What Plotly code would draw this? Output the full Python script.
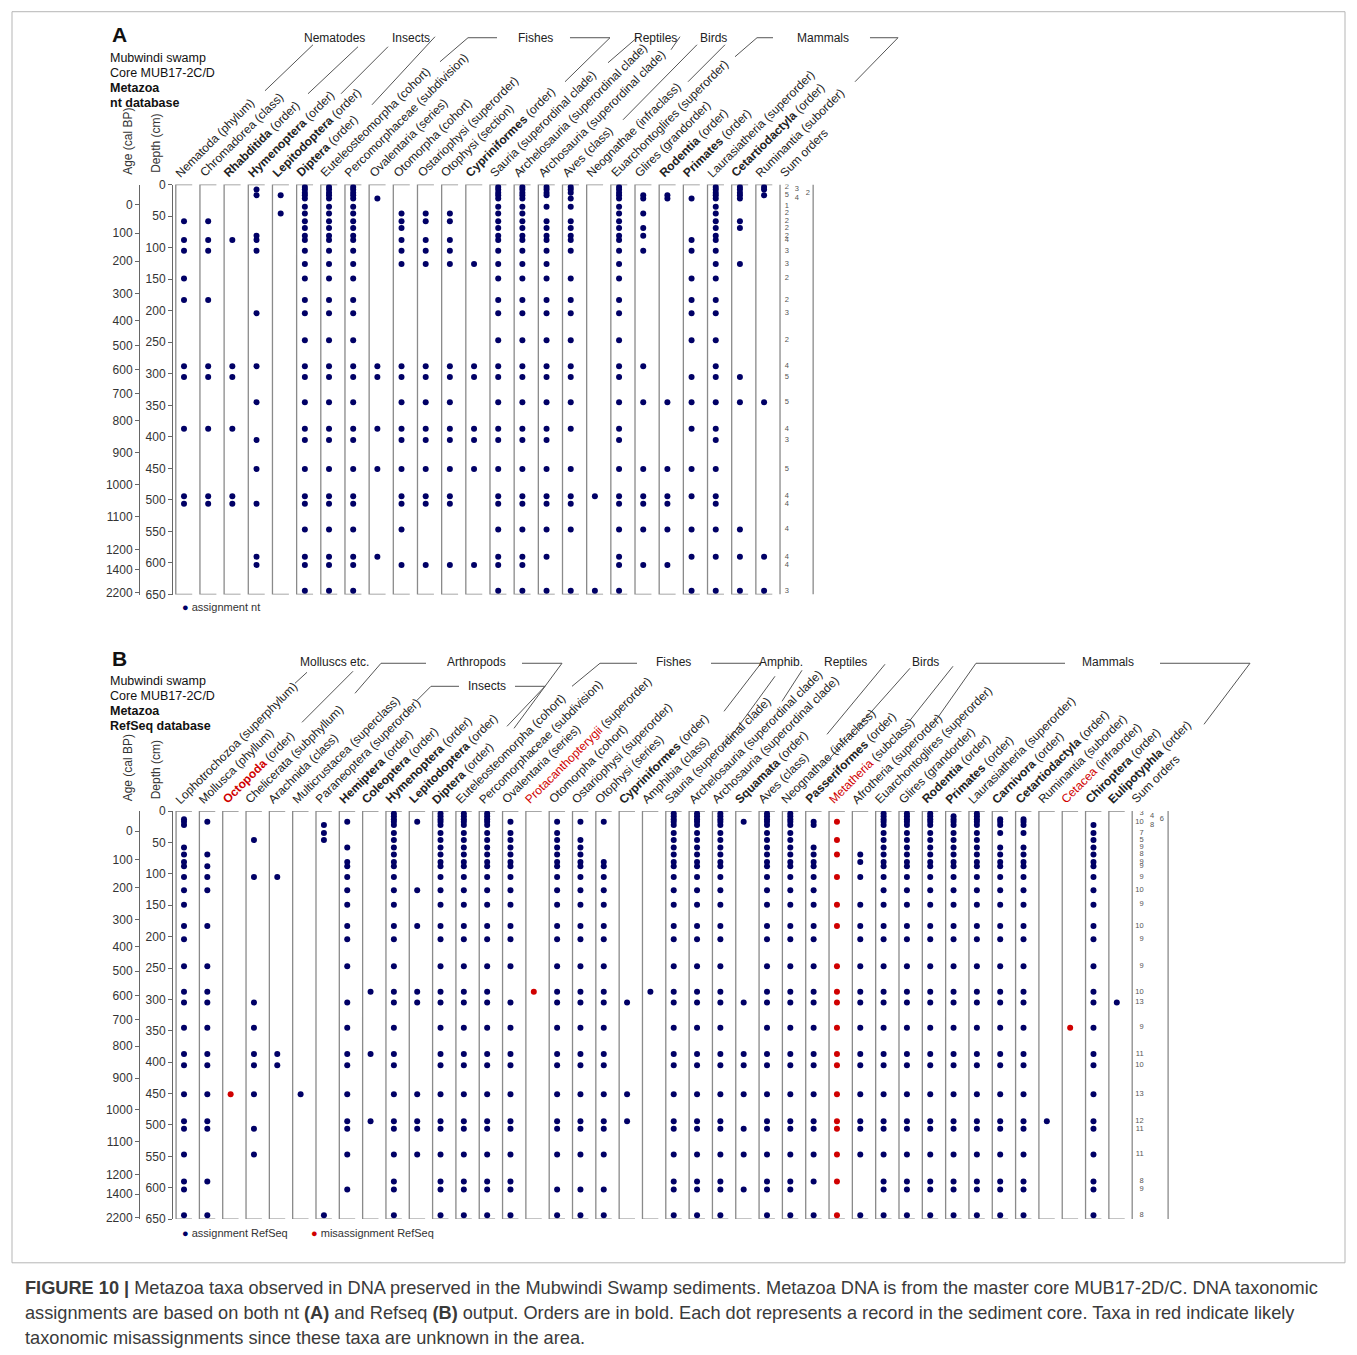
import plotly.graph_objects as go

W, H = 1357, 1355
# the photographed page shows figure rows at 7.3 + 0.9888 * y; positions below are page pixels
Y_OFF, Y_SCALE = 7.3, 0.9888
FONT = "Liberation Sans, Arial, Helvetica, sans-serif"
NAVY = "#000066"
RED = "#d00000"
FRAME = "#8a8a8a"
INK = "#333333"

# ---------------------------------------------------------------- data
SAMPLE_DEPTHS = [4, 8, 13, 17, 22, 35, 46, 58, 69, 81, 88, 105, 126, 149, 183,
                 204, 247, 288, 305, 345, 387, 405, 451, 494, 506, 547, 590, 603, 644]
DEPTH_TICKS = [0, 50, 100, 150, 200, 250, 300, 350, 400, 450, 500, 550, 600, 650]
AGE_LABELS = [0, 100, 200, 300, 400, 500, 600, 700, 800, 900, 1000, 1100, 1200, 1400, 2200]
AGE_TICK_DEPTHS = [32, 77, 121.5, 173.5, 216, 255, 294, 332, 374.5, 425.5, 476, 527, 579, 610.5, 647.5]
ALL = SAMPLE_DEPTHS

# Panel A: nt database
A_NAMES = ["Nematoda", "Chromadorea", "Rhabditida", "Hymenoptera", "Lepitodoptera", "Diptera",
           "Euteleosteomorpha", "Percomorphaceae", "Ovalentaria", "Otomorpha", "Ostariophysi",
           "Otophysi", "Cypriniformes", "Sauria", "Archelosauria", "Archosauria", "Aves",
           "Neognathae", "Euarchontoglires", "Glires", "Rodentia", "Primates", "Laurasiatheria",
           "Cetartiodactyla", "Ruminantia"]
A_RANKS = ["phylum", "class", "order", "order", "order", "order", "cohort", "subdivision",
           "series", "cohort", "superorder", "section", "order", "superordinal clade",
           "superordinal clade", "superordinal clade", "class", "infraclass", "superorder",
           "grandorder", "order", "order", "superorder", "order", "suborder"]
A_RED = [False] * 25
A_DEPTHS = [
    [58, 88, 105, 149, 183, 288, 305, 387, 494, 506],
    [58, 88, 105, 183, 288, 305, 387, 494, 506],
    [88, 288, 305, 387, 494, 506],
    [8, 17, 81, 88, 105, 204, 288, 345, 405, 451, 506, 590, 603],
    [17, 46],
    ALL,
    ALL,
    ALL,
    [22, 288, 305, 387, 451, 590],
    [46, 58, 69, 88, 105, 126, 288, 305, 345, 387, 405, 451, 494, 506, 547, 603],
    [46, 58, 88, 105, 126, 288, 305, 345, 387, 405, 451, 494, 506, 603],
    [46, 58, 88, 105, 126, 288, 305, 345, 387, 405, 451, 494, 506, 603],
    [126, 288, 305, 387, 405, 451, 603],
    ALL,
    ALL,
    [4, 8, 13, 17, 35, 58, 69, 81, 88, 105, 126, 149, 183, 204, 247, 288, 305, 345, 387,
     405, 451, 494, 506, 547, 590, 644],
    [4, 8, 13, 22, 35, 58, 69, 81, 88, 105, 149, 183, 204, 247, 288, 305, 345, 387, 451,
     494, 506, 547, 644],
    [494, 644],
    ALL,
    [17, 22, 46, 69, 81, 105, 288, 345, 451, 494, 506, 547, 603],
    [17, 22, 345, 451, 494, 506, 547, 603],
    [22, 88, 105, 149, 183, 204, 247, 305, 345, 387, 451, 494, 547, 590, 644],
    [4, 8, 13, 17, 22, 35, 46, 58, 69, 81, 88, 105, 126, 149, 183, 204, 247, 288, 305, 345,
     387, 405, 451, 494, 506, 547, 590, 644],
    [4, 8, 13, 17, 22, 58, 69, 126, 305, 345, 547, 590, 644],
    [4, 8, 17, 345, 590, 644],
]
A_SUMS = [2, 3, 2, 5, 4, 1, 2, 2, 2, 2, 4, 3, 3, 2, 2, 3, 2, 4, 5, 5, 4, 3, 5, 4, 4, 4, 4, 4, 3]

# Panel B: RefSeq database
B_NAMES = ["Lophotrochozoa", "Mollusca", "Octopoda", "Chelicerata", "Arachnida", "Multicrustacea",
           "Paraneoptera", "Hemiptera", "Coleoptera", "Hymenoptera", "Lepitodoptera", "Diptera",
           "Euteleosteomorpha", "Percomorphaceae", "Ovalentaria", "Protacanthopterygii",
           "Otomorpha", "Ostariophysi", "Otophysi", "Cypriniformes", "Amphibia", "Sauria",
           "Archelosauria", "Archosauria", "Squamata", "Aves", "Neognathae", "Passeriformes",
           "Metatheria", "Afrotheria", "Euarchontoglires", "Glires", "Rodentia", "Primates",
           "Laurasiatheria", "Carnivora", "Cetartiodactyla", "Ruminantia", "Cetacea",
           "Chiroptera", "Eulipotyphla"]
B_RANKS = ["superphylum", "phyllum", "order", "subphyllum", "class", "superclass", "superorder",
           "order", "order", "order", "order", "order", "cohort", "subdivision", "series",
           "superorder", "cohort", "superorder", "series", "order", "class",
           "superordinal clade", "superordinal clade", "superordinal clade", "order", "class",
           "infraclass", "order", "subclass", "superorder", "superorder", "grandorder", "order",
           "order", "superorder", "order", "order", "suborder", "infraorder", "order", "order"]
B_RED = [n in ("Octopoda", "Protacanthopterygii", "Metatheria", "Cetacea") for n in B_NAMES]
B_DEPTHS = [
    [13, 17, 22, 58, 69, 81, 88, 105, 126, 149, 183, 204, 247, 288, 305, 345, 387, 405, 451,
     494, 506, 547, 590, 603, 644],
    [17, 69, 88, 105, 126, 183, 247, 288, 305, 345, 387, 405, 451, 494, 506, 590, 644],
    [451],
    [46, 105, 305, 345, 387, 405, 451, 506, 547],
    [105, 387, 405],
    [451],
    [22, 35, 46, 644],
    [17, 58, 81, 88, 105, 126, 149, 183, 204, 247, 305, 345, 387, 405, 451, 494, 506, 547, 603],
    [288, 387, 494],
    ALL,
    [17, 126, 183, 288, 305, 451, 494, 506, 547],
    ALL,
    ALL,
    ALL,
    [17, 35, 46, 58, 69, 81, 88, 105, 126, 149, 183, 204, 247, 305, 345, 387, 405, 451, 494,
     506, 547, 590, 603, 644],
    [288],
    [17, 35, 46, 58, 69, 81, 88, 105, 126, 149, 183, 204, 247, 288, 305, 345, 387, 405, 451,
     494, 506, 547, 603, 644],
    [17, 46, 58, 69, 81, 88, 105, 126, 149, 183, 204, 247, 288, 305, 345, 387, 405, 451, 494,
     506, 547, 603, 644],
    [17, 81, 88, 105, 126, 149, 183, 204, 247, 288, 305, 345, 387, 405, 451, 494, 506, 547,
     603, 644],
    [305, 451, 494],
    [288],
    ALL,
    ALL,
    ALL,
    [17, 305, 387, 405, 451, 506, 547, 603],
    ALL,
    ALL,
    [17, 22, 58, 69, 81, 88, 105, 126, 149, 183, 204, 247, 288, 305, 345, 387, 405, 451, 494,
     506, 547, 590, 644],
    [17, 46, 69, 105, 149, 183, 247, 288, 305, 345, 387, 405, 451, 494, 506, 547, 590, 644],
    [69, 81, 105, 149, 183, 204, 247, 288, 305, 345, 387, 405, 451, 494, 506, 547, 644],
    ALL,
    ALL,
    ALL,
    [8, 13, 17, 22, 35, 46, 58, 69, 81, 88, 105, 126, 149, 183, 204, 247, 288, 305, 345, 387,
     405, 451, 494, 506, 547, 590, 603, 644],
    ALL,
    [13, 17, 22, 35, 58, 69, 81, 88, 105, 126, 149, 183, 204, 247, 288, 305, 345, 387, 405,
     451, 494, 506, 547, 590, 603, 644],
    [13, 17, 22, 35, 58, 69, 81, 88, 105, 126, 149, 183, 204, 247, 288, 305, 345, 387, 405,
     451, 494, 506, 547, 590, 603, 644],
    [494],
    [345],
    [22, 35, 46, 58, 69, 81, 88, 105, 126, 149, 183, 204, 247, 288, 305, 345, 387, 405, 451,
     494, 506, 547, 590, 603, 644],
    [305],
]
B_SUMS = [3, 4, 6, 10, 8, 7, 5, 9, 8, 9, 9, 9, 10, 9, 10, 9, 9, 10, 13, 9, 11, 10, 13, 12, 11,
          11, 8, 9, 8]


# ---------------------------------------------------------------- helpers
def px(x):
    return x / W


def py(y):
    return 1 - ((y - Y_OFF) / Y_SCALE) / H


def label_html(name, rank, red):
    n = f"<b>{name}</b>" if rank == "order" else name
    if red:
        n = f"<span style='color:{RED}'>{n}</span>"
    return f"{n} ({rank})"


fig = go.Figure()
annotations = []
shapes = []

PANELS = [
    dict(names=A_NAMES, ranks=A_RANKS, red=A_RED, depths=A_DEPTHS, sums=A_SUMS,
         xa="x", ya="y", age_ax="y3", top=184.7, bottom=594.3,
         sum_right=1.03, sum_slots=[0.03, 0.44, 0.9]),
    dict(names=B_NAMES, ranks=B_RANKS, red=B_RED, depths=B_DEPTHS, sums=B_SUMS,
         xa="x2", ya="y2", age_ax="y4", top=810.7, bottom=1218.3,
         sum_right=1.2, sum_slots=[0.15, 0.6, 1.02]),
]

for p in PANELS:
    n = len(p["names"])
    # dots
    bx, by, rx, ry = [], [], [], []
    for i, ds in enumerate(p["depths"]):
        for d in ds:
            if p["red"][i]:
                rx.append(i); ry.append(d)
            else:
                bx.append(i); by.append(d)
    # column frames: left rule with short ticks at top and bottom
    lx, ly = [], []
    for i in range(n):
        l, r = i - 0.34, i + 0.34
        lx += [r, l, l, r, None]
        ly += [0, 0, 650, 650, None]
    lx += [n - 0.34, n - 0.34, None, n + p["sum_right"], n + p["sum_right"], None]
    ly += [0, 650, None, 0, 650, None]
    fig.add_trace(go.Scatter(x=lx, y=ly, mode="lines", line=dict(color=FRAME, width=1.3),
                             xaxis=p["xa"], yaxis=p["ya"], hoverinfo="skip", showlegend=False))
    fig.add_trace(go.Scatter(x=bx, y=by, mode="markers", marker=dict(size=6, color=NAVY),
                             xaxis=p["xa"], yaxis=p["ya"], hoverinfo="skip", showlegend=False))
    if rx:
        fig.add_trace(go.Scatter(x=rx, y=ry, mode="markers", marker=dict(size=6, color=RED),
                                 xaxis=p["xa"], yaxis=p["ya"], hoverinfo="skip", showlegend=False))
    # sum of orders per sample, top five staggered
    sx, sy, st = [], [], []
    for k, (d, s) in enumerate(zip(SAMPLE_DEPTHS, p["sums"])):
        slot = [0, 1, 2, 0, 1][k] if k < 5 else 0
        sx.append(n + p["sum_slots"][slot]); sy.append(d); st.append(str(s))
    fig.add_trace(go.Scatter(x=sx, y=sy, text=st, mode="text", textposition="middle left",
                             textfont=dict(size=7.5, color="#555", family=FONT),
                             xaxis=p["xa"], yaxis=p["ya"], hoverinfo="skip", showlegend=False))
    # keeps the age axis drawn
    fig.add_trace(go.Scatter(x=[-5], y=[-100], mode="markers", marker=dict(opacity=0),
                             xaxis=p["xa"], yaxis=p["age_ax"], hoverinfo="skip", showlegend=False))
    # rotated taxon labels
    for i in range(n + 1):
        txt = "Sum orders" if i == n else label_html(p["names"][i], p["ranks"][i], p["red"][i])
        annotations.append(dict(
            x=i, xref=p["xa"], y=py(p["top"] - 2), yref="paper", text=txt,
            showarrow=False, textangle=-45, xanchor="left", yanchor="bottom", xshift=-14,
            font=dict(size=12, color="#222", family=FONT)))

# group headers (page pixels)
A_GROUPS = [("Nematodes", 334, 38), ("Insects", 411, 38), ("Fishes", 535, 38),
            ("Reptiles", 655, 38), ("Birds", 713, 38), ("Mammals", 823, 38)]
B_GROUPS = [("Molluscs etc.", 334, 662), ("Arthropods", 476, 662), ("Insects", 487, 686),
            ("Fishes", 673, 662), ("Amphib.", 781, 662), ("Reptiles", 845, 662),
            ("Birds", 925, 662), ("Mammals", 1108, 662)]
A_BRACKETS = [
    [(265, 91), (313, 45)], [(308, 94), (358, 47)], [(341, 94), (388, 47)],
    [(372, 105), (435, 37)], [(440, 62), (468, 38), (497, 38)],
    [(570, 38), (610, 38), (565, 82)], [(608, 63), (637, 38)], [(680, 37), (671, 50)],
    [(623, 120), (697, 45)], [(688, 82), (725, 45)], [(735, 57), (757, 38), (773, 38)],
    [(870, 38), (898, 38), (855, 82)],
]
B_BRACKETS = [
    [(295, 683), (307, 672)], [(302, 722), (353, 671)], [(355, 693), (381, 663), (426, 663)],
    [(522, 663), (562, 663), (514, 728)], [(417, 700), (431, 686), (459, 686)],
    [(515, 686), (545, 686), (507, 726)], [(572, 686), (600, 663), (637, 663)],
    [(711, 663), (761, 663), (724, 711)], [(724, 746), (775, 676)], [(782, 701), (802, 670)],
    [(827, 734), (885, 664)], [(829, 759), (910, 668)], [(910, 720), (953, 666)],
    [(933, 724), (976, 663), (1065, 663)], [(1160, 663), (1250, 663), (1204, 724)],
]
for name, x, y in A_GROUPS + B_GROUPS:
    annotations.append(dict(x=px(x), y=py(y), xref="paper", yref="paper", text=name,
                            showarrow=False, xanchor="center", yanchor="middle",
                            font=dict(size=12, color="#222", family=FONT)))
for pts in A_BRACKETS + B_BRACKETS:
    path = "M " + " L ".join(f"{px(x):.5f},{py(y):.5f}" for x, y in pts)
    shapes.append(dict(type="path", path=path, xref="paper", yref="paper",
                       line=dict(color="#555", width=1)))

# panel letters and headings
for letter, y0, db in [("A", 35, "nt database"), ("B", 658, "RefSeq database")]:
    annotations.append(dict(x=px(110), y=py(y0), xref="paper", yref="paper", text=f"<b>{letter}</b>",
                            showarrow=False, xanchor="left", yanchor="middle",
                            font=dict(size=21, color="#111", family=FONT)))
    for k, line in enumerate(["Mubwindi swamp", "Core MUB17-2C/D", "<b>Metazoa</b>", f"<b>{db}</b>"]):
        annotations.append(dict(x=px(108), y=py(y0 + 23 + 15 * k), xref="paper", yref="paper",
                                text=line, showarrow=False, xanchor="left", yanchor="middle",
                                font=dict(size=12.5, color="#111", family=FONT)))
for yc in [142, 768]:
    annotations.append(dict(x=px(128), y=py(yc), xref="paper", yref="paper", text="Age (cal BP)",
                            textangle=-90, showarrow=False, xanchor="center", yanchor="middle",
                            font=dict(size=12, color=INK, family=FONT)))
    annotations.append(dict(x=px(156), y=py(yc + 2), xref="paper", yref="paper", text="Depth (cm)",
                            textangle=-90, showarrow=False, xanchor="center", yanchor="middle",
                            font=dict(size=12, color=INK, family=FONT)))

# legends
for x, y, col, txt in [(180, 607, NAVY, "assignment nt"), (180, 1232, NAVY, "assignment RefSeq"),
                       (309, 1232, RED, "misassignment RefSeq")]:
    annotations.append(dict(x=px(x), y=py(y), xref="paper", yref="paper",
                            text=f"<span style='color:{col}'>●</span> {txt}", showarrow=False,
                            xanchor="left", yanchor="middle",
                            font=dict(size=11, color=INK, family=FONT)))

# caption
CAPTION = [
    "<b>FIGURE 10 |</b> Metazoa taxa observed in DNA preserved in the Mubwindi Swamp sediments. "
    "Metazoa DNA is from the master core MUB17-2D/C. DNA taxonomic",
    "assignments are based on both nt <b>(A)</b> and Refseq <b>(B)</b> output. Orders are in bold. "
    "Each dot represents a record in the sediment core. Taxa in red indicate likely",
    "taxonomic misassignments since these taxa are unknown in the area.",
]
for k, line in enumerate(CAPTION):
    annotations.append(dict(x=px(23), y=py(1287 + 25 * k), xref="paper", yref="paper", text=line,
                            showarrow=False, xanchor="left", yanchor="middle",
                            font=dict(size=18.2, color="#3a3a3a", family=FONT)))

shapes.append(dict(type="rect", xref="paper", yref="paper", x0=px(12), x1=px(1345),
                   y0=py(1262), y1=py(12), line=dict(color="#b5b5b5", width=1)))


def depth_axis(domain, pos):
    return dict(domain=domain, range=[650, 0], anchor="free", position=pos,
                tickvals=DEPTH_TICKS, ticks="outside", ticklen=4, tickcolor="#666",
                showline=True, linecolor="#666", linewidth=1, showgrid=False, zeroline=False,
                tickfont=dict(size=12, color=INK, family=FONT))


def age_axis(base, pos):
    return dict(overlaying=base, range=[650, 0], anchor="free", position=pos, side="left",
                tickvals=AGE_TICK_DEPTHS, ticktext=[str(a) for a in AGE_LABELS],
                ticks="outside", ticklen=4, tickcolor="#666", showline=True, linecolor="#666",
                linewidth=1, showgrid=False, zeroline=False,
                tickfont=dict(size=12, color=INK, family=FONT))


fig.update_layout(
    width=W, height=H, margin=dict(l=0, r=0, t=0, b=0),
    paper_bgcolor="white", plot_bgcolor="rgba(0,0,0,0)",
    font=dict(family=FONT),
    xaxis=dict(domain=[px(184 - 24.17), px(184 + 24.17 * 27)], range=[-1, 27], visible=False,
               anchor="y"),
    yaxis=depth_axis([py(594.3), py(184.7)], px(172)),
    yaxis3=age_axis("y", px(139)),
    xaxis2=dict(domain=[px(184 - 23.32), px(184 + 23.32 * 43)], range=[-1, 43], visible=False,
                anchor="y2"),
    yaxis2=depth_axis([py(1218.3), py(810.7)], px(172)),
    yaxis4=age_axis("y2", px(139)),
    annotations=annotations,
    shapes=shapes,
)

fig.write_html("out.html")
